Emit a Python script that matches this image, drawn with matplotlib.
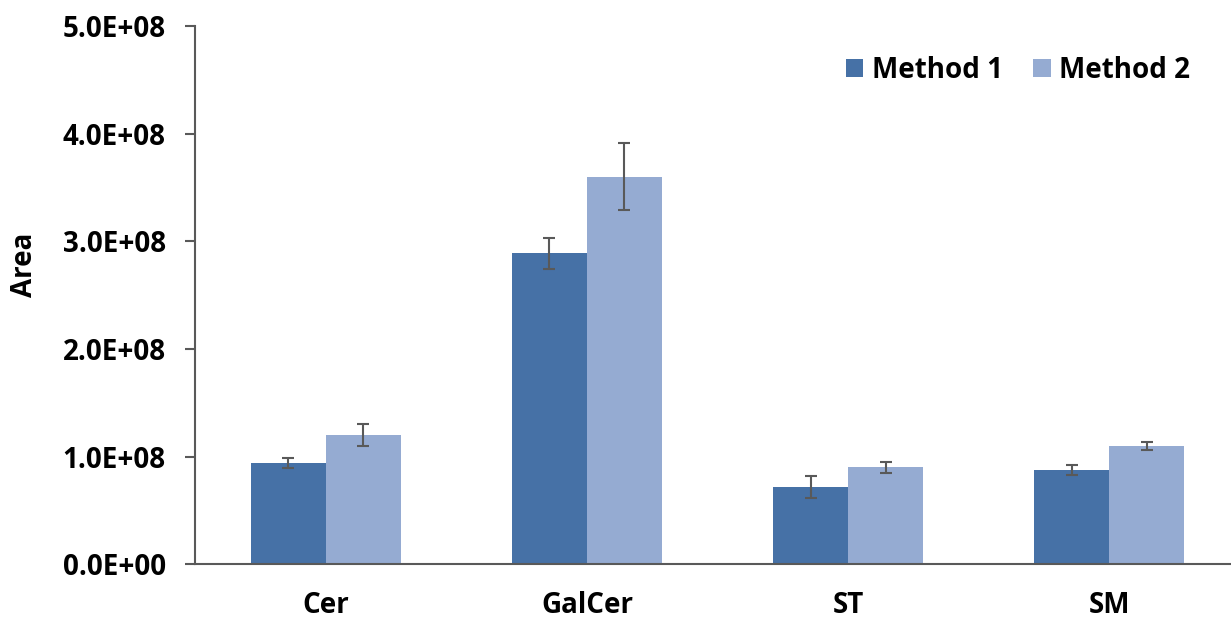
import numpy as np
import matplotlib.pyplot as plt
from matplotlib.ticker import FuncFormatter

# Data
categories = ["Cer", "GalCer", "ST", "SM"]
method1 = [0.94e8, 2.89e8, 0.72e8, 0.875e8]
method1_err = [0.045e8, 0.145e8, 0.10e8, 0.045e8]
method2 = [1.20e8, 3.60e8, 0.90e8, 1.10e8]
method2_err = [0.105e8, 0.31e8, 0.05e8, 0.038e8]

plt.rcParams['font.family'] = ['Open Sans', 'DejaVu Sans']
plt.rcParams['font.weight'] = 'bold'

c1 = '#4671a6'
c2 = '#95abd2'
grey = '#595959'

fig = plt.figure(figsize=(12.31, 6.21), dpi=100)
ax = fig.add_axes([0.1584, 0.0913, 0.849, 0.8668])

x = np.arange(len(categories))
w = 0.287
err_kw = dict(ecolor=grey, elinewidth=1.5, capsize=4.5, capthick=1.5)
ax.bar(x - w / 2, method1, w, yerr=method1_err, color=c1, label="Method 1", error_kw=err_kw)
ax.bar(x + w / 2, method2, w, yerr=method2_err, color=c2, label="Method 2", error_kw=err_kw)

ax.set_xlim(-0.5, 3.5)
ax.set_ylim(0, 5e8)
ax.set_yticks(np.arange(0, 5.01e8, 1e8))
ax.yaxis.set_major_formatter(FuncFormatter(lambda v, p: "%.1E" % v))
ax.set_xticks(x)
ax.set_xticklabels(categories)

for s in ['top', 'right']:
    ax.spines[s].set_visible(False)
for s in ['left', 'bottom']:
    ax.spines[s].set_color(grey)
    ax.spines[s].set_linewidth(1.5)

ax.tick_params(axis='y', direction='out', length=7, width=1.5, color=grey,
               labelsize=20, pad=14)
ax.tick_params(axis='x', length=0, labelsize=20, pad=19)

fig.text(25 / 1231, 1 - 265 / 621, "Area", rotation=90, ha='center', va='center',
         fontsize=20, fontweight='bold')

ax.legend(loc='center', bbox_to_anchor=(1018 / 1231, 1 - 70 / 621),
          bbox_transform=fig.transFigure, ncol=2, frameon=False,
          fontsize=20, handlelength=0.62, handleheight=0.62,
          handletextpad=0.3, columnspacing=1.1)

fig.savefig("out.png", dpi=100)
